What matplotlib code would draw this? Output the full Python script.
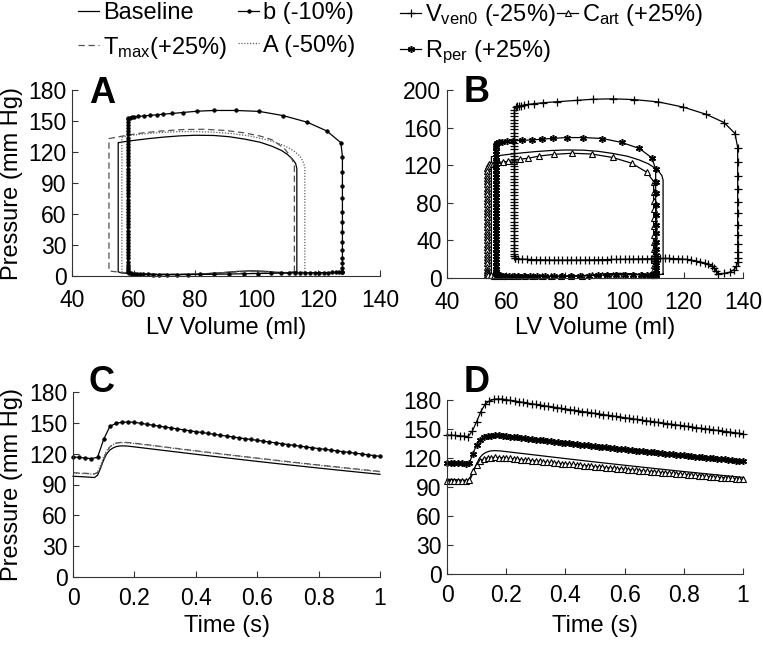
import numpy as np
import matplotlib
matplotlib.use('Agg')
import matplotlib.pyplot as plt
from matplotlib.lines import Line2D

plt.rcParams['font.family'] = ['Liberation Sans', 'DejaVu Sans']
plt.rcParams['mathtext.fontset'] = 'custom'
plt.rcParams['mathtext.rm'] = 'Liberation Sans'
plt.rcParams['mathtext.it'] = 'Liberation Sans'

# ---------------- Panel A : PV loops (V in ml, P in mm Hg) ----------------
base_V = [113.0, 113.0, 112.6, 111.6, 110.0, 108.0, 105.0, 101.0, 96.0, 91.0, 86.0, 80.0, 75.0, 70.0, 65.0,
          60.0, 57.0, 55.0, 55.0, 56.0, 58.0, 62.0, 68.0, 75.0, 82.0, 88.0, 93.0, 98.0, 102.0, 106.0, 110.0, 113.0]
base_P = [4.0, 104.0, 109.0, 113.0, 117.5, 121.5, 125.5, 129.5, 132.5, 134.8, 136.0, 136.2, 135.6, 134.5, 133.0,
          131.2, 130.0, 129.0, 4.0, 3.0, 2.5, 2.0, 1.5, 1.5, 2.0, 3.0, 4.3, 5.0, 4.6, 3.6, 3.2, 4.0]

tmax_V = [112.2, 112.2, 111.6, 110.6, 109.2, 107.3, 104.8, 101.0, 96.0, 90.0, 83.0, 76.0, 69.0, 63.0, 58.0,
          54.5, 52.0, 52.0, 53.0, 56.0, 60.0, 66.0, 74.0, 82.0, 88.0, 94.0, 100.0, 105.0, 109.0, 112.2]
tmax_P = [4.0, 106.0, 112.0, 117.0, 122.5, 127.0, 132.0, 135.5, 138.5, 140.8, 142.0, 141.7, 140.3, 138.5, 136.3,
          134.3, 133.0, 5.0, 4.5, 3.5, 2.5, 2.0, 1.7, 2.0, 3.0, 4.0, 4.3, 3.5, 3.0, 4.0]

Aelas_V = [115.6, 115.6, 115.0, 114.0, 112.3, 110.0, 107.0, 103.0, 98.0, 92.0, 86.0, 80.0, 74.0, 68.0, 62.0,
           58.5, 57.0, 56.2, 56.2, 57.0, 59.0, 62.0, 68.0, 75.0, 82.0, 88.0, 93.0, 98.0, 103.0, 107.0, 111.0, 115.6]
Aelas_P = [4.0, 105.0, 111.0, 116.0, 120.5, 124.5, 128.5, 132.0, 135.3, 137.8, 139.2, 139.8, 139.6, 138.7, 137.2,
           135.8, 134.8, 134.0, 4.0, 3.0, 2.5, 2.0, 1.5, 1.5, 2.0, 3.0, 4.3, 5.0, 4.6, 3.6, 3.2, 4.0]

b_right_V = 127.8
b_right_P = [3.5, 4.2, 7.4, 12.3, 17.7, 25.2, 33.2, 42.3, 52.6, 62.3, 75.2, 87.4, 101.0, 115.5]
b_top = [(127.3, 129.0), (122.7, 140.4), (116.4, 148.8), (108.6, 155.2), (100.8, 159.3), (93.1, 160.2),
         (86.2, 160.2), (80.7, 159.5), (75.9, 158.2), (72.6, 157.3), (69.6, 156.6), (67.5, 156.0),
         (65.3, 155.4), (63.5, 155.0), (61.5, 154.4), (60.2, 154.0), (59.4, 153.6), (58.8, 153.1),
         (58.3, 152.6), (58.1, 151.8)]
b_left_V = 58.1
b_left_P = [149, 146, 143, 140, 137, 134, 131, 128, 125, 122, 119, 116, 113, 110, 107, 104, 101, 98, 95, 92,
            89, 86, 83, 80, 77, 74, 71, 68, 65, 62, 59, 56, 53, 50, 47, 44, 41, 38, 35, 32, 29, 26, 23, 20,
            17, 14, 11, 8.5, 6.5, 5, 4]
b_bottom = [(58.5, 3.3), (59.0, 2.8), (59.6, 2.4), (60.3, 2.1), (61.1, 1.9), (62.0, 1.7), (63.2, 1.6),
            (64.6, 1.5), (66.3, 1.4), (68.4, 1.3), (71.0, 1.3), (74.0, 1.3), (77.5, 1.4), (81.5, 1.5),
            (86.0, 1.7), (91.0, 1.9), (96.0, 2.2), (100.5, 2.4), (104.5, 2.6), (108.0, 2.8), (110.5, 2.9),
            (112.3, 3.0), (114.0, 3.0), (115.6, 3.1), (117.2, 3.1), (118.8, 3.2), (120.3, 3.2), (121.8, 3.3),
            (123.2, 3.3), (124.5, 3.4), (125.7, 3.4), (126.8, 3.5), (127.8, 3.5)]

# ---------------- Panel B : PV loops ----------------
vv_bottom = [(63.0, 21.8), (64.0, 20.3), (65.5, 20.0), (67.0, 19.8), (68.5, 19.6), (70.0, 19.4), (71.5, 19.3),
             (73.0, 19.2), (74.5, 19.1), (76.0, 19.0), (77.5, 19.0), (79.0, 19.0), (80.5, 19.0), (82.0, 19.0),
             (83.5, 19.0), (85.0, 19.1), (86.5, 19.1), (88.0, 19.2), (89.5, 19.3), (91.0, 19.4), (92.5, 19.5),
             (94.0, 19.6), (95.5, 19.7), (97.0, 19.8), (98.5, 19.9), (100.0, 20.0), (101.5, 20.1), (103.0, 20.2),
             (104.5, 20.3), (106.0, 20.4), (107.5, 20.5), (109.0, 20.6), (110.5, 20.7), (112.0, 20.8),
             (113.5, 20.8), (115.0, 20.8), (116.5, 20.7), (118.0, 20.5), (119.5, 20.2), (121.0, 19.7),
             (122.5, 19.0), (124.0, 18.2), (125.5, 17.2), (127.0, 16.0), (128.3, 14.5), (129.4, 12.8),
             (130.3, 10.5), (131.0, 7.5), (131.6, 4.5), (133.5, 4.8), (135.5, 6.2), (137.0, 9.0), (137.8, 12.5)]
vv_right_V = 138.2
vv_right_P = [17.0, 21.5, 28.0, 36.0, 45.7, 56.3, 68.8, 81.1, 94.3, 108.7, 123.6, 138.8]
vv_top = [(137.3, 153.7), (133.6, 165.4), (127.5, 174.2), (119.6, 182.0), (111.4, 187.3), (103.3, 189.8),
          (96.0, 190.6), (89.4, 190.2), (83.8, 189.0), (77.0, 187.6), (72.5, 186.5), (69.5, 185.5),
          (67.5, 184.7), (66.0, 184.0), (65.0, 183.5), (64.2, 183.0), (63.6, 182.5), (63.2, 181.5)]
vv_left_V = 62.8
vv_left_P = [179, 175.5, 172, 168.5, 165, 161.5, 158, 154.5, 151, 147.5, 144, 140.5, 137, 133.5, 130, 126.5,
             123, 119.5, 116, 112.5, 109, 105.5, 102, 98.5, 95, 91.5, 88, 84.5, 81, 77.5, 74, 70.5, 67, 63.5,
             60, 56.5, 53, 49.5, 46, 42.5, 39, 35.5, 32, 28.5, 25.5, 23.0]

rp_right_V = 110.5
rp_right_P = [3.5, 5.0, 8.5, 13.8, 19.1, 24.4, 30.8, 38.6, 47.5, 56.3, 67.0, 77.5, 90.0, 102.3]
rp_top = [(110.5, 115.8), (109.2, 127.8), (105.0, 137.8), (99.0, 144.2), (92.5, 148.4), (86.1, 149.4),
          (80.4, 149.4), (75.9, 148.6), (72.0, 147.6), (68.6, 146.9), (65.2, 146.4), (62.4, 145.9),
          (60.2, 145.4), (58.7, 144.9), (57.6, 144.3), (56.9, 143.4), (56.5, 142.0)]
rp_left_V = 56.4
rp_left_P = [139, 135.5, 132, 128.5, 125, 121.5, 118, 114.5, 111, 107.5, 104, 100.5, 97, 93.5, 90, 86.5, 83,
             79.5, 76, 72.5, 69, 65.5, 62, 58.5, 55, 51.5, 48, 44.5, 41, 37.5, 34, 30.5, 27, 23.5, 20, 16.5,
             13, 10, 7.5, 5.5, 4.2]
rp_bottom = [(57.0, 3.3), (57.8, 2.9), (58.7, 2.6), (59.7, 2.3), (61.0, 2.1), (62.5, 1.9), (64.0, 1.8),
             (66.0, 1.7), (68.0, 1.6), (70.5, 1.6), (73.0, 1.6), (76.0, 1.7), (79.0, 1.8), (82.0, 2.0),
             (85.0, 2.2), (88.0, 2.5), (91.0, 2.8), (94.0, 3.1), (97.0, 3.4), (100.0, 3.6), (103.0, 3.6),
             (105.5, 3.5), (107.5, 3.4), (109.0, 3.4), (110.0, 3.4), (110.5, 3.5)]

ca_right_V = 109.8
ca_right_P = [3.2, 4.5, 7.0, 10.0, 14.0, 19.0, 25.0, 31.0, 38.0, 46.0, 55.0, 64.0, 73.0, 82.0, 92.0, 102.6]
ca_top = [(107.5, 112.5), (102.4, 122.1), (96.0, 128.2), (88.9, 131.9), (82.3, 132.7), (76.3, 131.6),
          (71.2, 129.8), (67.5, 127.4), (64.7, 126.4), (62.6, 124.9), (60.7, 124.1), (59.0, 123.4),
          (57.3, 123.0), (56.0, 122.5), (55.0, 121.8), (54.2, 120.8), (53.7, 119.5)]
ca_left_V = 53.5
ca_left_P = [117, 113.5, 110, 106.5, 103, 99.5, 96, 92.5, 89, 85.5, 82, 78.5, 75, 71.5, 68, 64.5, 61, 57.5,
             54, 50.5, 47, 43.5, 40, 36.5, 33, 29.5, 26, 22.5, 19, 15.5, 12, 9, 6.5, 4.5]
ca_bottom = [(54.0, 3.2), (54.8, 2.8), (55.8, 2.5), (57.0, 2.3), (58.5, 2.1), (60.0, 2.0), (62.0, 1.9),
             (64.0, 1.8), (66.5, 1.7), (69.0, 1.7), (72.0, 1.7), (75.0, 1.8), (78.5, 1.9), (82.0, 2.1),
             (85.5, 2.4), (89.0, 2.7), (92.5, 3.0), (96.0, 3.3), (99.5, 3.6), (103.0, 3.7), (106.0, 3.5),
             (108.5, 3.3), (109.8, 3.2)]

# ---------------- Panels C, D : arterial pressure vs time ----------------
t_line = [0, 0.02, 0.04, 0.06, 0.07, 0.08, 0.09, 0.1, 0.11, 0.12, 0.13, 0.14, 0.15, 0.16, 0.17, 0.18, 0.2,
          0.25, 0.3, 0.4, 0.5, 0.6, 0.7, 0.8, 0.9, 1.0]
base_t = [98.0, 97.7, 97.4, 97.0, 96.8, 99.0, 106.0, 114.0, 120.0, 123.5, 125.5, 126.8, 127.4, 127.6, 127.5,
          127.3, 126.6, 124.8, 123.0, 119.4, 115.9, 112.5, 109.2, 106.0, 102.9, 99.9]
tmax_t = [101.5, 101.2, 100.9, 100.5, 100.3, 101.5, 107.0, 115.0, 122.0, 126.5, 129.0, 130.2, 130.8, 131.0,
          131.0, 130.8, 130.2, 128.4, 126.5, 122.8, 119.2, 115.7, 112.3, 109.0, 105.8, 102.7]
Aelas_t = [101.0, 100.8, 100.5, 100.2, 100.0, 102.0, 109.0, 117.0, 123.0, 126.8, 128.9, 130.0, 130.5, 130.7,
           130.7, 130.5, 129.9, 128.1, 126.2, 122.5, 118.9, 115.4, 112.0, 108.7, 105.5, 102.4]
b_t = [116.8, 116.3, 115.8, 115.2, 116.5, 134.0, 146.5, 149.5, 150.6, 150.8, 150.5, 149.6, 148.6, 147.7, 146.8,
       145.9, 145.0, 144.1, 143.2, 142.3, 141.4, 140.6, 139.7, 138.8, 138.0, 137.1, 136.3, 135.4, 134.6, 133.8,
       133.0, 132.1, 131.3, 130.5, 129.7, 128.9, 128.1, 127.3, 126.5, 125.7, 125.0, 124.2, 123.4, 122.7, 121.9,
       121.2, 120.4, 119.7, 118.9, 118.2, 117.4]
vven_t = [143.8, 143.6, 143.3, 143.0, 142.6, 142.2, 148.0, 157.5, 168.0, 175.5, 179.0, 180.6, 181.1, 181.0,
          180.3, 179.6, 178.9, 178.2, 177.5, 176.8, 176.1, 175.4, 174.8, 174.1, 173.4, 172.7, 172.1, 171.4,
          170.7, 170.1, 169.4, 168.8, 168.1, 167.5, 166.8, 166.2, 165.5, 164.9, 164.3, 163.6, 163.0, 162.4,
          161.7, 161.1, 160.5, 159.9, 159.2, 158.6, 158.0, 157.4, 156.8, 156.2, 155.6, 155.0, 154.4, 153.8,
          153.2, 152.6, 152.0, 151.4, 150.8, 150.2, 149.7, 149.1, 148.5, 147.9, 147.4, 146.8, 146.2, 145.6, 145.1]
rper_t = [115.3, 115.1, 114.9, 114.7, 114.5, 114.3, 114.6, 124.5, 133.5, 139.0, 141.5, 142.6, 143.1, 143.3,
          143.3, 143.1, 142.6, 142.2, 141.7, 141.3, 140.8, 140.4, 139.9, 139.5, 139.1, 138.6, 138.2, 137.7,
          137.3, 136.9, 136.4, 136.0, 135.6, 135.1, 134.7, 134.3, 133.9, 133.4, 133.0, 132.6, 132.2, 131.8,
          131.4, 130.9, 130.5, 130.1, 129.7, 129.3, 128.9, 128.5, 128.1, 127.7, 127.3, 126.9, 126.5, 126.1,
          125.7, 125.3, 124.9, 124.5, 124.1, 123.7, 123.4, 123.0, 122.6, 122.2, 121.8, 121.4, 121.1, 120.7,
          120.3, 119.9, 119.6, 119.2, 118.8, 118.5, 118.1, 117.7, 117.3, 116.9, 116.5]
cart_t = [96.7, 96.6, 96.5, 96.3, 96.2, 96.0, 97.5, 107.0, 113.0, 117.2, 119.2, 120.1, 120.5, 120.6, 120.5,
          120.3, 119.9, 119.5, 119.1, 118.8, 118.4, 118.0, 117.6, 117.3, 116.9, 116.5, 116.2, 115.8, 115.4,
          115.1, 114.7, 114.3, 114.0, 113.6, 113.3, 112.9, 112.5, 112.2, 111.8, 111.5, 111.1, 110.8, 110.4,
          110.1, 109.7, 109.4, 109.0, 108.7, 108.3, 108.0, 107.6, 107.3, 107.0, 106.6, 106.3, 106.0, 105.6,
          105.3, 105.0, 104.6, 104.3, 104.0, 103.6, 103.3, 103.0, 102.7, 102.3, 102.0, 101.7, 101.4, 101.0,
          100.7, 100.4, 100.1, 99.8, 99.5, 99.1, 98.8, 98.5, 98.2, 97.9]

labels = ['Baseline', r'T$_{\mathrm{max}}$(+25%)', 'b (-10%)', 'A (-50%)',
          r'V$_{\mathrm{ven0}}$ (-25%)', r'R$_{\mathrm{per}}$ (+25%)', r'C$_{\mathrm{art}}$ (+25%)']


def loop(*segs):
    pts = []
    for s in segs:
        pts.extend(s)
    arr = np.array(pts, dtype=float)
    return arr[:, 0], arr[:, 1]


def vert(V, Ps):
    return [(V, p) for p in Ps]


# styles
LW = 0.9
st_base = dict(color='black', lw=LW, ls='-')
st_tmax = dict(color='#505050', lw=LW, ls=(0, (5, 3)))
st_A = dict(color='#606060', lw=LW, ls=(0, (1, 1.3)))
st_b = dict(color='black', lw=LW, ls='-', marker='o', ms=2.5, mfc='black', mec='black', mew=0.6)
st_vv = dict(color='black', lw=LW, ls='-', marker='+', ms=6, mew=0.9)
st_rp = dict(color='black', lw=LW, ls='-', marker=(6, 2, 0), ms=5, mew=1.1)
st_ca = dict(color='black', lw=LW, ls='-', marker='^', ms=5, mfc='white', mec='black', mew=0.8)

fig = plt.figure(figsize=(7.63, 6.45), dpi=100)
W, H = 763.0, 645.0
axA = fig.add_axes([72 / W, 1 - 276 / H, 308 / W, 186 / H])
axB = fig.add_axes([447 / W, 1 - 278 / H, 296 / W, 188 / H])
axC = fig.add_axes([73 / W, 1 - 577 / H, 307 / W, 185 / H])
axD = fig.add_axes([447 / W, 1 - 574 / H, 296 / W, 174 / H])

TFS = 16.5   # tick labels
LFS = 17     # axis labels / legend


def style(ax, xpad):
    for s in ['top', 'right']:
        ax.spines[s].set_visible(False)
    for s in ['left', 'bottom']:
        ax.spines[s].set_linewidth(0.8)
        ax.spines[s].set_color('#333333')
    ax.tick_params(direction='in', length=4.5, width=0.8, labelsize=TFS, colors='#333333',
                   labelcolor='black', top=False, right=False)
    ax.tick_params(axis='x', pad=xpad)
    ax.tick_params(axis='y', pad=4)


# ---- A
axA.plot(base_V, base_P, **st_base)
axA.plot(tmax_V, tmax_P, **st_tmax)
axA.plot(Aelas_V, Aelas_P, **st_A)
bv, bp = loop(vert(b_right_V, b_right_P), b_top, vert(b_left_V, b_left_P), b_bottom)
axA.plot(bv, bp, **st_b)
axA.set_xlim(40, 140)
axA.set_ylim(0, 180)
axA.set_xticks([40, 60, 80, 100, 120, 140])
axA.set_yticks([0, 30, 60, 90, 120, 150, 180])

# ---- B
axB.plot(base_V, base_P, **st_base)
cv, cp = loop(vert(ca_right_V, ca_right_P), ca_top, vert(ca_left_V, ca_left_P), ca_bottom)
axB.plot(cv, cp, **st_ca)
rv, rp = loop(vert(rp_right_V, rp_right_P), rp_top, vert(rp_left_V, rp_left_P), rp_bottom)
axB.plot(rv, rp, **st_rp)
vv, vp = loop(vv_bottom, vert(vv_right_V, vv_right_P), vv_top, vert(vv_left_V, vv_left_P), [vv_bottom[0]])
axB.plot(vv, vp, **st_vv)
axB.set_xlim(40, 140)
axB.set_ylim(0, 200)
axB.set_xticks([40, 60, 80, 100, 120, 140])
axB.set_yticks([0, 40, 80, 120, 160, 200])

# ---- C
axC.plot(t_line, base_t, **st_base)
axC.plot(t_line, tmax_t, **st_tmax)
axC.plot(t_line, Aelas_t, **st_A)
axC.plot(np.linspace(0, 1, len(b_t)), b_t, **st_b)

# ---- D
axD.plot(t_line, base_t, **st_base)
axD.plot(np.linspace(0, 1, len(cart_t)), cart_t, **st_ca)
axD.plot(np.linspace(0, 1, len(rper_t)), rper_t, **st_rp)
axD.plot(np.linspace(0, 1, len(vven_t)), vven_t, **st_vv)

for ax in (axC, axD):
    ax.set_xlim(0, 1)
    ax.set_ylim(0, 180)
    ax.set_xticks([0, 0.2, 0.4, 0.6, 0.8, 1.0])
    ax.set_xticklabels(['0', '0.2', '0.4', '0.6', '0.8', '1'])
    ax.set_yticks([0, 30, 60, 90, 120, 150, 180])

for ax, xpad in ((axA, 9.5), (axB, 9.5), (axC, 7), (axD, 7)):
    style(ax, xpad)
    for ln in ax.lines:
        ln.set_clip_on(False)

axA.set_xlabel('LV Volume (ml)', fontsize=LFS, va='top')
axA.xaxis.set_label_coords(0.5, -(317 - 276) / 186)
axB.set_xlabel('LV Volume (ml)', fontsize=LFS, va='top')
axB.xaxis.set_label_coords(0.5, -(317 - 278) / 188)
axC.set_xlabel('Time (s)', fontsize=LFS, va='top')
axC.xaxis.set_label_coords(0.5, -(615 - 577) / 185)
axD.set_xlabel('Time (s)', fontsize=LFS, va='top')
axD.xaxis.set_label_coords(0.5, -(615 - 574) / 174)
axA.set_ylabel('Pressure (mm Hg)', fontsize=LFS)
axA.yaxis.set_label_coords(-(72 - 23) / 308, 0.5)
axC.set_ylabel('Pressure (mm Hg)', fontsize=LFS)
axC.yaxis.set_label_coords(-(73 - 23) / 307, 0.5)

# panel letters
for letter, x, y in [('A', 89, 103), ('B', 464, 102), ('C', 89, 392), ('D', 464, 392)]:
    fig.text(x / W, 1 - y / H, letter, fontsize=26, fontweight='bold', ha='left', va='baseline')

# legend: four columns
handles = [Line2D([], [], **st_base), Line2D([], [], **st_tmax), Line2D([], [], **st_b), Line2D([], [], **st_A),
           Line2D([], [], **st_vv), Line2D([], [], **st_rp), Line2D([], [], **st_ca)]
cols = [([0, 1], 78), ([2, 3], 238), ([4, 5], 400), ([6], 557)]
for idx, x in cols:
    fig.legend([handles[i] for i in idx], [labels[i] for i in idx], loc='upper left',
               bbox_to_anchor=(x / W, 1 - 2 / H), frameon=False, fontsize=LFS, handlelength=0.9,
               handletextpad=0.15, labelspacing=0.45, borderpad=0.0, borderaxespad=0.0)

fig.savefig('out.png', dpi=100)
